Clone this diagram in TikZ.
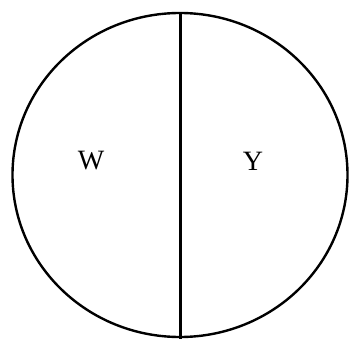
\documentclass[tikz,border=0pt]{standalone}
\usepackage{fontspec}
\setmainfont{Liberation Serif}
\begin{document}
\begin{tikzpicture}[x=1pt,y=-1pt,line width=2.4pt]
    \tikzset{part/.style={font=\fontsize{28}{30}\selectfont}}
    \useasboundingbox (0,0) rectangle (350,339);
    \draw (180,175) ellipse [x radius=167.5, y radius=162];
    \coordinate (top) at (180.5,13);
    \coordinate (bottom) at (180.5,339);
    \draw (top) -- (bottom);
    \node[part] (w) at (91,161) {W};
    \node[part] (y) at (253,161) {Y};
\end{tikzpicture}
\end{document}
